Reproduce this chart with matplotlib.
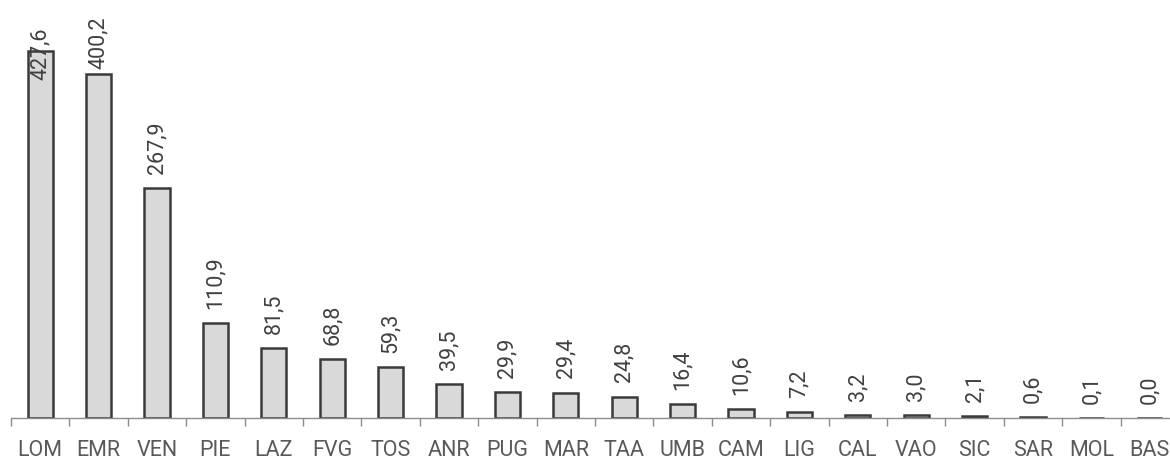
import matplotlib
matplotlib.use("Agg")
import matplotlib.pyplot as plt
from matplotlib.ticker import FixedLocator

regions = ["LOM", "EMR", "VEN", "PIE", "LAZ", "FVG", "TOS", "ANR", "PUG", "MAR",
           "TAA", "UMB", "CAM", "LIG", "CAL", "VAO", "SIC", "SAR", "MOL", "BAS"]
values = [427.6, 400.2, 267.9, 110.9, 81.5, 68.8, 59.3, 39.5, 29.9, 29.4,
          24.8, 16.4, 10.6, 7.2, 3.2, 3.0, 2.1, 0.6, 0.1, 0.0]
title = "Figura 4 – Valore delle importazioni per regione dei settori ad alta tecnologia (in milioni di euro)"

plt.rcParams['font.family'] = ['Roboto', 'DejaVu Sans']

W, H = 1170, 460
fig = plt.figure(figsize=(W / 100, H / 100), dpi=100)
base_px = 419
left_px, right_px = 11, 1179
ax = fig.add_axes([left_px / W, (H - base_px) / H, (right_px - left_px) / W, base_px / H])

x = list(range(len(regions)))
ax.bar(x, values, width=0.43, color="#d9d9d9", edgecolor="#3a3a3a", linewidth=1.8, zorder=2)

ax.set_xlim(-0.5, len(regions) - 0.5)
ax.set_ylim(0, 488)

for s in ["top", "right", "left"]:
    ax.spines[s].set_visible(False)
ax.spines["bottom"].set_color("#8c8c8c")
ax.spines["bottom"].set_linewidth(1.0)
ax.set_yticks([])

ax.set_xticks(x)
ax.set_xticklabels(regions, fontsize=15.5, color="#595959")
ax.tick_params(axis="x", which="major", length=0, pad=15)
ax.xaxis.set_minor_locator(FixedLocator([i - 0.5 for i in range(len(regions) + 1)]))
ax.tick_params(axis="x", which="minor", length=6, width=1.0, color="#8c8c8c", direction="out")

cap = 408
for xi, v in zip(x, values):
    lab = f"{v:.1f}".replace(".", ",")
    if v + 16 / 0.858 > cap:
        ax.text(xi, cap - (v - 400.2) * 0.5 if v > cap else cap, lab, rotation=90,
                ha="center", va="bottom", fontsize=15.5, color="#404040", clip_on=False)
    else:
        ax.annotate(lab, (xi, v), xytext=(0, 11), textcoords="offset points",
                    rotation=90, ha="center", va="bottom", fontsize=15.5, color="#404040")

fig.text(0.0, 1.0 + 4 / H, title, ha="left", va="bottom", fontsize=11,
         fontweight="bold", color="#303030")

fig.savefig("out.png", dpi=100)
